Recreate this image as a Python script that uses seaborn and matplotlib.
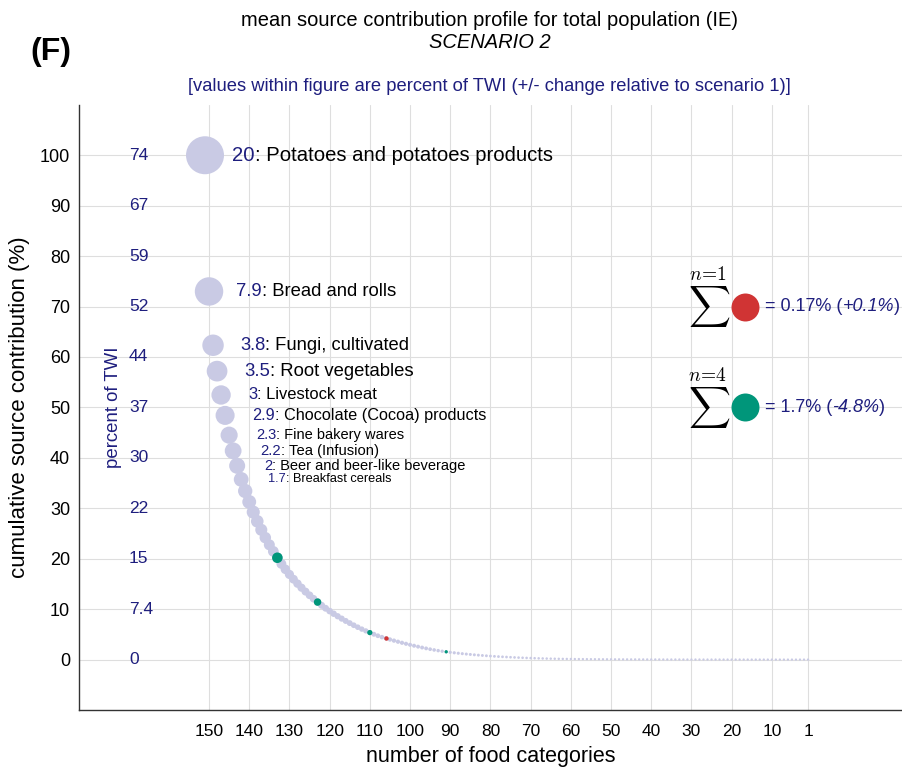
import numpy as np
import pandas as pd
import matplotlib
matplotlib.use('Agg')
import matplotlib.pyplot as plt
import seaborn as sns

# food categories sorted by contribution (percent of TWI), largest first
top_names = ['Potatoes and potatoes products', 'Bread and rolls', 'Fungi, cultivated',
             'Root vegetables', 'Livestock meat', 'Chocolate (Cocoa) products',
             'Fine bakery wares', 'Tea (Infusion)', 'Beer and beer-like beverage',
             'Breakfast cereals']
top_values = [20, 7.9, 3.8, 3.5, 3.0, 2.9, 2.3, 2.2, 2.0, 1.7]

# remaining categories (rank 11 .. 151)
other_values = [
    1.6, 1.5, 1.35, 1.25, 1.15, 1.05, 0.97, 0.93,
    0.9, 0.8, 0.75, 0.7, 0.65, 0.6, 0.57, 0.54, 0.51, 0.49,
    0.48, 0.43, 0.41, 0.39, 0.37, 0.35, 0.34, 0.32, 0.31, 0.29, 0.28, 0.26, 0.25,
    0.245, 0.22, 0.2, 0.18,
    0.17, 0.165, 0.16, 0.155, 0.15, 0.145, 0.14, 0.135, 0.13, 0.125, 0.12, 0.11, 0.1, 0.09, 0.08,
    0.075, 0.071, 0.067, 0.063, 0.059, 0.056, 0.053, 0.05, 0.047, 0.044, 0.042,
    0.04, 0.037, 0.034, 0.032, 0.03, 0.028, 0.026, 0.025, 0.023, 0.022,
    0.02, 0.018, 0.017, 0.015, 0.014, 0.012, 0.011, 0.01, 0.009, 0.008,
    0.007, 0.006, 0.006, 0.005, 0.005, 0.004, 0.004, 0.003, 0.003, 0.003,
    0.0025, 0.0024, 0.0023, 0.0022, 0.0021, 0.002, 0.0019, 0.0018, 0.0017, 0.0016,
    0.0015, 0.0014, 0.0013, 0.0012, 0.0011, 0.001, 0.001, 0.0009, 0.0009, 0.0008,
    0.0008, 0.0007, 0.0007, 0.0006, 0.0006, 0.0005, 0.0005, 0.0005, 0.0004, 0.0004,
    0.0004, 0.0003, 0.0003, 0.0003, 0.0003, 0.0002, 0.0002, 0.0002, 0.0002, 0.0002,
    0.0001, 0.0001, 0.0001, 0.0001, 0.0001, 0.0001, 0.0001, 0.0001, 0.0, 0.0,
]

green_ranks = [19, 29, 42, 61]
red_ranks = [46]
sum_n = [1, 4]
sum_values = ['0.17%', '1.7%']
sum_changes = ['+0.1%', '-4.8%']

y_ticks = [0, 10, 20, 30, 40, 50, 60, 70, 80, 90, 100]
twi_labels = ['0', '7.4', '15', '22', '30', '37', '44', '52', '59', '67', '74']
x_ticks = [150, 140, 130, 120, 110, 100, 90, 80, 70, 60, 50, 40, 30, 20, 10, 1]

label_sizes = [14.6, 13.3, 13.2, 13.3, 11.9, 11.7, 10.5, 10.6, 10.5, 9.2]

lav = '#c9cae4'
green = '#00967a'
red = '#d03434'
navy = '#1e1e7e'

sns.set_style('white', {'text.color': 'black', 'axes.labelcolor': 'black',
                        'xtick.color': 'black', 'ytick.color': 'black'})
plt.rcParams['font.family'] = ['Liberation Sans', 'DejaVu Sans']
plt.rcParams['mathtext.fontset'] = 'cm'

contrib = np.array(top_values + other_values)
n = len(contrib)
rank = np.arange(1, n + 1)
remaining = contrib[::-1].cumsum()[::-1]
df = pd.DataFrame({'rank': rank, 'x': n + 1 - rank, 'twi': contrib,
                   'cum': remaining / remaining[0] * 100})
df['group'] = 'base'
df.loc[df['rank'].isin(green_ranks), 'group'] = 'green'
df.loc[df['rank'].isin(red_ranks), 'group'] = 'red'
d_px = 2.3 + 10.95 * np.log1p(df['twi'] / 0.8)
df['s'] = (d_px * 0.72) ** 2

fig = plt.figure(figsize=(9.02, 7.69), dpi=100)
ax = fig.add_axes([0.0876, 0.0767, 0.9124, 0.787])

sns.scatterplot(data=df, x='x', y='cum', s=df['s'].values, color=lav, linewidth=0,
                legend=False, ax=ax, zorder=3)
for grp, col in [('green', green), ('red', red)]:
    sub = df[df['group'] == grp]
    sns.scatterplot(data=sub, x='x', y='cum', s=sub['s'].values, color=col, linewidth=0,
                    legend=False, ax=ax, zorder=4)

# labels of the largest contributors
for i, (name, val) in enumerate(zip(top_names, top_values)):
    row = df.iloc[i]
    t = ax.annotate(f'{val:g}', xy=(row['x'], row['cum']), xytext=(19.5, 0),
                    textcoords='offset points', ha='left', va='center',
                    color=navy, fontsize=label_sizes[i], zorder=5)
    ax.annotate(f': {name}', xy=(1, 0), xycoords=t, ha='left', va='bottom',
                color='black', fontsize=label_sizes[i], zorder=5)

# percent of TWI column
for yv, lab in zip(y_ticks, twi_labels):
    ax.text(169.9, yv, lab, ha='left', va='center', color=navy, fontsize=12.5)
ax.text(173.8, 50, 'percent of TWI', rotation=90, ha='center', va='center',
        color=navy, fontsize=13.4)

# sum annotations on the right
for k, (nn, sv, ch, col) in enumerate(zip(sum_n, sum_values, sum_changes, [red, green])):
    yc = 70 - 20 * k
    ax.text(25.6, yc, r'$\sum$', ha='center', va='center', fontsize=21)
    ax.text(25.9, yc + 6.3, r'$n\!=\!%d$' % nn, ha='center', va='center', fontsize=14)
    ax.scatter([16.75], [yc], s=406, color=col, linewidth=0, zorder=5)
    t1 = ax.text(11.7, yc, f'= {sv} (', ha='left', va='center', color=navy, fontsize=13)
    t2 = ax.annotate(ch, xy=(1, 0), xycoords=t1, ha='left', va='bottom', color=navy,
                     fontsize=13, style='italic')
    ax.annotate(')', xy=(1, 0), xycoords=t2, ha='left', va='bottom', color=navy,
                fontsize=13)

ax.set_xlim(182.34, -22.38)
ax.set_ylim(-10, 110)
ax.set_xticks(x_ticks)
ax.set_xticklabels([str(v) for v in x_ticks])
ax.set_yticks(y_ticks)
ax.set_yticklabels([str(v) for v in y_ticks])
ax.grid(True, color='#dedede', linewidth=0.8)
ax.set_axisbelow(True)
ax.tick_params(axis='x', direction='in', length=5, width=1, color='#333333',
               labelsize=12.5, pad=10)
ax.tick_params(axis='y', direction='in', length=5, width=1, color='#333333',
               labelsize=13, pad=6.5)
for side in ['top', 'right']:
    ax.spines[side].set_visible(False)
for side in ['left', 'bottom']:
    ax.spines[side].set_color('#333333')
    ax.spines[side].set_linewidth(1)
ax.set_xlabel('number of food categories', fontsize=15.5, labelpad=5)
ax.set_ylabel('cumulative source contribution (%)', fontsize=16, labelpad=7)

fig.text(0.543, 0.973, 'mean source contribution profile for total population (IE)',
         ha='center', va='center', fontsize=14.5)
fig.text(0.543, 0.945, 'SCENARIO 2', ha='center', va='center', fontsize=14.5, style='italic')
fig.text(0.056, 0.932, '(F)', ha='center', va='center', fontsize=23, fontweight='bold')
fig.text(0.543, 0.888,
         '[values within figure are percent of TWI (+/- change relative to scenario 1)]',
         ha='center', va='center', fontsize=13.2, color=navy)

fig.savefig('out.png', dpi=100)
